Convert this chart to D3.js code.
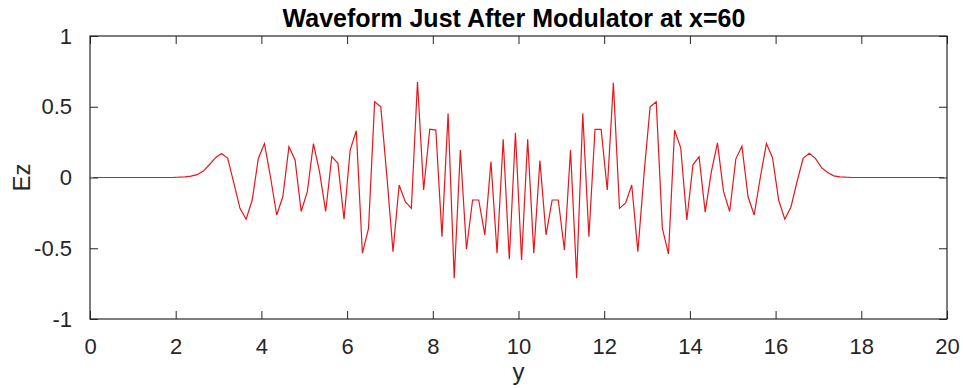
<!DOCTYPE html>
<html>
<head>
<meta charset="utf-8">
<script src="https://cdn.jsdelivr.net/npm/d3@7/dist/d3.min.js"></script>
<style>
  html, body { margin: 0; padding: 0; background: #fff; }
  svg { display: block; font-family: "Liberation Sans", Arial, Helvetica, sans-serif; }
</style>
</head>
<body>
<svg id="chart" width="963" height="388"></svg>
<script>
// Ez sampled at cell centres, dy = 1/7, along y from 0 to 20
const cellSize = 1 / 7;
const ezValues = [
  0, 0, 0, 0, 0, 0, 0, 0, 0, 0,
  0, 0, 0, 0, 0.002, 0.005, 0.01, 0.02, 0.045, 0.09,
  0.14, 0.17, 0.135, -0.04, -0.218, -0.295, -0.159, 0.135, 0.24, 0.0,
  -0.265, -0.136, 0.218, 0.124, -0.24, -0.10, 0.24, 0.04, -0.24, 0.147,
  0.10, -0.295, 0.194, 0.33, -0.535, -0.36, 0.535, 0.50, 0.01, -0.524,
  -0.053, -0.171, -0.218, 0.677, -0.088, 0.342, 0.335, -0.418, 0.453, -0.712,
  0.194, -0.507, -0.159, -0.159, -0.406, 0.112, -0.535, 0.27, -0.578, 0.316,
  -0.583, 0.27, -0.535, 0.119, -0.406, -0.159, -0.159, -0.512, 0.194, -0.712,
  0.453, -0.418, 0.34, 0.34, -0.088, 0.67, -0.218, -0.18, -0.053, -0.524,
  0.02, 0.50, 0.535, -0.359, -0.54, 0.335, 0.21, -0.30, 0.09, 0.147,
  -0.245, 0.04, 0.245, -0.10, -0.24, 0.13, 0.222, -0.136, -0.265, 0.0,
  0.24, 0.14, -0.159, -0.295, -0.21, -0.03, 0.135, 0.171, 0.135, 0.07,
  0.035, 0.012, 0.005, 0.002, 0, 0, 0, 0, 0, 0,
  0, 0, 0, 0, 0, 0, 0, 0, 0, 0
];
const xTicks = [0, 2, 4, 6, 8, 10, 12, 14, 16, 18, 20];
const yTicks = [-1, -0.5, 0, 0.5, 1];
const yTickLabels = ["-1", "-0.5", "0", "0.5", "1"];
const titleText = "Waveform Just After Modulator at x=60";
const xLabel = "y";
const yLabel = "Ez";

const points = ezValues.map((v, i) => ({ y: (i + 0.5) * cellSize, ez: v }));

const svg = d3.select("#chart");
const plotLeft = 90, plotRight = 947, plotTop = 36, plotBottom = 319;

const x = d3.scaleLinear().domain([0, 20]).range([plotLeft, plotRight]);
const y = d3.scaleLinear().domain([-1, 1]).range([plotBottom, plotTop]);

const axisColor = "#262626";
const tickLen = 8;

// waveform
svg.append("path")
  .datum(points)
  .attr("fill", "none")
  .attr("stroke", "#e8161b")
  .attr("stroke-width", 1.2)
  .attr("stroke-linejoin", "miter")
  .attr("d", d3.line().x(d => x(d.y)).y(d => y(d.ez)));

// axes: ticks point inward on all four sides
function styleAxis(g) {
  g.select(".domain").remove();
  g.selectAll(".tick line").attr("stroke", axisColor).attr("stroke-width", 1);
  g.selectAll(".tick text")
    .attr("fill", "#262626")
    .style("font-size", "22px")
    .style("font-family", "\"Liberation Sans\", Arial, sans-serif");
}

svg.append("g")
  .attr("transform", `translate(0,${plotBottom})`)
  .call(d3.axisBottom(x).tickValues(xTicks).tickSizeInner(-tickLen).tickSizeOuter(0).tickPadding(19).tickFormat(d3.format("d")))
  .call(styleAxis);

svg.append("g")
  .attr("transform", `translate(0,${plotTop})`)
  .call(d3.axisTop(x).tickValues(xTicks).tickSizeInner(-tickLen).tickSizeOuter(0).tickFormat(""))
  .call(styleAxis);

svg.append("g")
  .attr("transform", `translate(${plotLeft},0)`)
  .call(d3.axisLeft(y).tickValues(yTicks).tickSizeInner(-tickLen).tickSizeOuter(0).tickPadding(18)
    .tickFormat((d, i) => yTickLabels[i]))
  .call(styleAxis);

svg.append("g")
  .attr("transform", `translate(${plotRight},0)`)
  .call(d3.axisRight(y).tickValues(yTicks).tickSizeInner(-tickLen).tickSizeOuter(0).tickFormat(""))
  .call(styleAxis);

// box
svg.append("rect")
  .attr("x", plotLeft).attr("y", plotTop)
  .attr("width", plotRight - plotLeft).attr("height", plotBottom - plotTop)
  .attr("fill", "none").attr("stroke", axisColor).attr("stroke-width", 1.2);

// title and labels
svg.append("text")
  .attr("x", 514).attr("y", 27)
  .attr("text-anchor", "middle")
  .style("font-size", "25px").style("font-weight", "bold")
  .attr("fill", "#000")
  .text(titleText);

svg.append("text")
  .attr("x", (plotLeft + plotRight) / 2).attr("y", 380)
  .attr("text-anchor", "middle")
  .style("font-size", "24px")
  .attr("fill", "#262626")
  .text(xLabel);

svg.append("text")
  .attr("transform", `translate(30,${(plotTop + plotBottom) / 2}) rotate(-90)`)
  .attr("text-anchor", "middle")
  .style("font-size", "24px")
  .attr("fill", "#262626")
  .text(yLabel);
</script>
</body>
</html>
